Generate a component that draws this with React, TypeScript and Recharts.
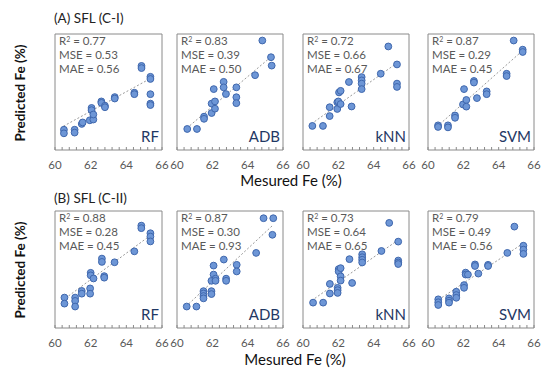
import React from 'react'
import {
  ScatterChart,
  Scatter,
  XAxis,
  YAxis,
  ReferenceArea,
  ReferenceLine,
} from 'recharts'

// measured vs predicted Fe (%), [x, y]
const rfA = [
  [60.5, 61.4], [60.5, 61.15], [61.1, 61.4], [61.1, 61.2], [61.5, 61.8], [61.55, 61.9],
  [62.05, 62.9], [62.05, 62.75], [61.95, 62.05], [62.15, 62.1], [62.15, 62.45],
  [62.6, 63.35], [62.6, 63.25], [62.8, 63.05], [62.8, 62.95], [63.35, 63.65], [63.35, 63.55],
  [64.45, 63.95], [64.45, 63.85], [64.85, 65.8], [64.85, 65.65], [65.35, 65.05], [65.35, 64.9],
  [65.35, 63.85], [65.35, 63.2], [65.35, 63.1],
]
const adbA = [
  [60.58, 61.45], [61.13, 61.45], [61.53, 62.3], [61.53, 62.15], [61.96, 62.55], [61.96, 63.2],
  [62.08, 64.2], [62.15, 63.35], [62.15, 62.85], [62.64, 64.7], [62.64, 64.32], [62.77, 63.86],
  [63.36, 64.32], [63.36, 63.64], [63.36, 63.23], [64.42, 65.16], [64.83, 67.55], [65.32, 66.4],
  [65.36, 65.82],
]
const knnA = [
  [60.53, 61.66], [61.13, 61.66], [61.51, 62.34], [61.51, 62.95], [61.94, 62.83], [61.94, 63.29],
  [62.0, 63.35], [62.04, 63.97], [62.13, 64.08], [62.13, 63.17], [62.6, 64.69], [62.75, 63.0],
  [63.32, 65.03], [63.32, 64.8], [63.32, 64.58], [63.32, 64.2], [64.4, 65.26], [64.83, 67.14],
  [65.32, 65.9], [65.32, 64.58], [65.32, 64.35],
]
const svmA = [
  [60.57, 61.7], [60.57, 61.59], [61.13, 61.7], [61.13, 61.56], [61.53, 62.38], [61.53, 62.22],
  [62.04, 64.2], [61.98, 63.14], [62.17, 63.45], [62.17, 62.99], [62.6, 64.76], [62.6, 64.65],
  [62.77, 63.58], [63.32, 64.04], [63.32, 63.85], [64.45, 65.26], [64.45, 65.1], [64.85, 67.55],
  [65.36, 66.92], [65.36, 66.76],
]
const rfB = [
  [60.53, 61.56], [60.53, 61.25], [61.13, 61.56], [61.13, 61.39], [61.13, 61.1], [61.5, 61.9],
  [61.5, 61.76], [61.97, 62.03], [61.97, 61.76], [62.0, 62.83], [62.0, 62.7], [62.16, 62.54],
  [62.63, 63.56], [62.63, 63.39], [62.76, 62.66], [62.76, 62.58], [63.34, 63.37], [64.45, 63.93],
  [64.84, 65.25], [64.84, 65.12], [65.35, 64.86], [65.35, 64.69], [65.35, 64.44],
]
const adbB = [
  [60.55, 61.1], [61.1, 61.1], [61.5, 61.89], [61.5, 61.77], [61.5, 61.64], [61.5, 61.52],
  [61.95, 61.89], [61.95, 61.74], [62.07, 63.2], [62.07, 62.74], [61.95, 62.42], [62.18, 62.53],
  [62.18, 62.42], [62.65, 63.51], [62.78, 62.53], [62.78, 62.42], [63.38, 63.24], [63.38, 62.9],
  [64.48, 63.85], [64.9, 65.63], [65.45, 65.63], [65.4, 64.78],
]
const knnB = [
  [60.57, 61.3], [61.14, 61.3], [61.52, 62.26], [61.52, 61.77], [61.96, 62.06], [61.96, 61.94],
  [61.96, 61.8], [62.02, 63.02], [62.02, 62.9], [62.13, 63.07], [62.13, 62.65], [62.13, 62.43],
  [62.63, 63.53], [62.78, 62.31], [63.35, 63.78], [63.35, 63.63], [63.35, 63.5], [63.35, 63.36],
  [64.44, 63.95], [64.88, 65.39], [65.39, 64.43], [65.39, 63.46], [65.39, 63.36], [65.39, 63.28],
]
const svmB = [
  [60.58, 61.47], [60.58, 61.32], [60.58, 61.18], [61.19, 61.52], [61.19, 61.4], [61.19, 61.3],
  [61.6, 61.86], [61.6, 61.69], [61.6, 61.55], [62.04, 62.2], [62.04, 62.06], [62.13, 62.84],
  [62.13, 62.74], [62.26, 62.74], [62.66, 63.26], [62.66, 63.18], [62.85, 62.79], [63.4, 63.24],
  [63.4, 63.18], [64.49, 63.85], [64.89, 65.2], [65.4, 64.22], [65.4, 64.02], [65.4, 63.8],
]

// trend line ends [x1, y1, x2, y2]
const trendA = [
  [60.47, 61.64, 65.35, 64.93],
  [60.55, 61.5, 65.3, 66.4],
  [60.47, 61.8, 65.32, 66.0],
  [60.5, 61.6, 65.35, 66.85],
]
const trendB = [
  [60.4, 61.4, 65.35, 64.75],
  [60.5, 61.1, 65.4, 65.25],
  [60.48, 61.4, 65.37, 64.5],
  [60.6, 61.45, 65.4, 64.35],
]

const models = ['RF', 'ADB', 'kNN', 'SVM']
const r2A = ['0.77', '0.83', '0.72', '0.87']
const mseA = ['0.53', '0.39', '0.66', '0.29']
const maeA = ['0.56', '0.50', '0.67', '0.45']
const r2B = ['0.88', '0.87', '0.73', '0.79']
const mseB = ['0.28', '0.30', '0.64', '0.49']
const maeB = ['0.45', '0.93', '0.65', '0.56']

const xTicks = [60, 60.4, 60.8, 61.2, 61.6, 62, 62.4, 62.8, 63.2, 63.6, 64, 64.4, 64.8, 65.2, 65.6, 66]
const yTicksA = [60, 60.4, 60.8, 61.2, 61.6, 62, 62.4, 62.8, 63.2, 63.6, 64, 64.4, 64.8, 65.2, 65.6, 66, 66.4, 66.8, 67.2, 67.6, 68]
const yTicksB = xTicks

const FONT = 'Lato, "Open Sans", sans-serif'
const GREY = '#595959'
const BOX = '#8a8a8a'

const colLeft = [55, 177, 303, 428]
const colWidth = [107, 106, 106, 106]

const isMajor = (v: number) => Math.abs(v - Math.round(v)) < 1e-6 && Math.round(v) % 2 === 0

const XTick = (props: any) => {
  const { x, y, payload } = props
  const v = payload.value
  return (
    <g>
      <line x1={x} x2={x} y1={y} y2={y - 3} stroke={BOX} />
      {isMajor(v) && (
        <text x={x} y={y + 19} textAnchor="middle" fill={GREY} fontSize={11.5} fontFamily={FONT}>
          {Math.round(v)}
        </text>
      )}
    </g>
  )
}

const YTick = (props: any) => {
  const { x, y, payload } = props
  const v = payload.value
  return (
    <g>
      <line x1={x} x2={x + 3} y1={y} y2={y} stroke={BOX} />
      {isMajor(v) && (
        <text x={x - 12} y={y + 4} textAnchor="end" fill={GREY} fontSize={11.5} fontFamily={FONT}>
          {Math.round(v)}
        </text>
      )}
    </g>
  )
}

const Dot = (props: any) => (
  <circle cx={props.cx} cy={props.cy} r={3.4} fill="#6d96d6" stroke="#3f67ad" strokeWidth={1} />
)

interface PanelProps {
  col: number
  top: number
  height: number
  yMax: number
  yTicks: number[]
  points: number[][]
  trend: number[]
  r2: string
  mse: string
  mae: string
}

function Panel({ col, top, height, yMax, yTicks, points, trend, r2, mse, mae }: PanelProps) {
  const left = colLeft[col]
  const w = colWidth[col]
  const ml = col === 0 ? 30 : 10
  const mt = 4
  const mr = 8
  const xh = 26
  const data = points.map(([x, y]) => ({ x, y }))
  return (
    <>
      <div style={{ position: 'absolute', left: left - ml, top: top - mt }}>
        <ScatterChart
          width={ml + w + mr}
          height={mt + height + xh}
          margin={{ top: mt, right: mr, bottom: 0, left: ml }}
        >
          <XAxis
            type="number"
            dataKey="x"
            domain={[60, 66]}
            ticks={xTicks}
            interval={0}
            height={xh}
            axisLine={false}
            tickLine={false}
            tickSize={0}
            tickMargin={0}
            tick={<XTick />}
          />
          <YAxis
            type="number"
            dataKey="y"
            domain={[60, yMax]}
            ticks={yTicks}
            interval={0}
            width={0}
            axisLine={false}
            tickLine={false}
            tickSize={0}
            tickMargin={0}
            tick={col === 0 ? <YTick /> : false}
          />
          <ReferenceArea x1={60} x2={66} y1={60} y2={yMax} fill="none" stroke={BOX} strokeWidth={1} />
          <ReferenceLine
            segment={[{ x: trend[0], y: trend[1] }, { x: trend[2], y: trend[3] }]}
            stroke="#9a9a9a"
            strokeDasharray="2 2"
          />
          <Scatter data={data} shape={<Dot />} isAnimationActive={false} />
        </ScatterChart>
      </div>
      <div
        style={{
          position: 'absolute',
          left: left + 4,
          top: top,
          fontSize: 11.5,
          lineHeight: '14px',
          color: GREY,
          fontFamily: FONT,
          whiteSpace: 'nowrap',
        }}
      >
        <div>R<sup style={{ fontSize: 7, verticalAlign: 'top', lineHeight: '10px' }}>2</sup> = {r2}</div>
        <div>MSE = {mse}</div>
        <div>MAE = {mae}</div>
      </div>
      <div
        style={{
          position: 'absolute',
          left: left,
          width: w - 3,
          top: top + height - 23,
          textAlign: 'right',
          fontSize: 15,
          color: '#1f3864',
          fontFamily: FONT,
        }}
      >
        {models[col]}
      </div>
    </>
  )
}

export default function App() {
  const topA = 34
  const hA = 116
  const topB = 211
  const hB = 117
  return (
    <div
      style={{
        position: 'absolute',
        left: 0,
        top: 0,
        width: 550,
        height: 379,
        background: '#fff',
        fontFamily: FONT,
        overflow: 'hidden',
      }}
    >
      <div style={{ position: 'absolute', left: 54, top: 10, fontSize: 13.5, color: '#222' }}>(A) SFL (C-I)</div>
      <div style={{ position: 'absolute', left: 54, top: 190, fontSize: 13.5, color: '#222' }}>(B) SFL (C-II)</div>

      {[0, 1, 2, 3].map((c) => (
        <Panel
          key={'a' + c}
          col={c}
          top={topA}
          height={hA}
          yMax={68}
          yTicks={yTicksA}
          points={[rfA, adbA, knnA, svmA][c]}
          trend={trendA[c]}
          r2={r2A[c]}
          mse={mseA[c]}
          mae={maeA[c]}
        />
      ))}
      {[0, 1, 2, 3].map((c) => (
        <Panel
          key={'b' + c}
          col={c}
          top={topB}
          height={hB}
          yMax={66}
          yTicks={yTicksB}
          points={[rfB, adbB, knnB, svmB][c]}
          trend={trendB[c]}
          r2={r2B[c]}
          mse={mseB[c]}
          mae={maeB[c]}
        />
      ))}

      <div style={{ position: 'absolute', left: 191, width: 200, top: 173, lineHeight: '15px', textAlign: 'center', fontSize: 15, color: '#111' }}>
        Mesured Fe (%)
      </div>
      <div style={{ position: 'absolute', left: 195, width: 200, top: 352, lineHeight: '15px', textAlign: 'center', fontSize: 15, color: '#111' }}>
        Mesured Fe (%)
      </div>

      <div
        style={{
          position: 'absolute',
          left: 20,
          top: 93,
          transform: 'translate(-50%, -50%) rotate(-90deg)',
          fontSize: 13.5,
          fontWeight: 700,
          color: '#111',
          whiteSpace: 'nowrap',
        }}
      >
        Predicted Fe (%)
      </div>
      <div
        style={{
          position: 'absolute',
          left: 20,
          top: 270,
          transform: 'translate(-50%, -50%) rotate(-90deg)',
          fontSize: 13.5,
          fontWeight: 700,
          color: '#111',
          whiteSpace: 'nowrap',
        }}
      >
        Predicted Fe (%)
      </div>
    </div>
  )
}
